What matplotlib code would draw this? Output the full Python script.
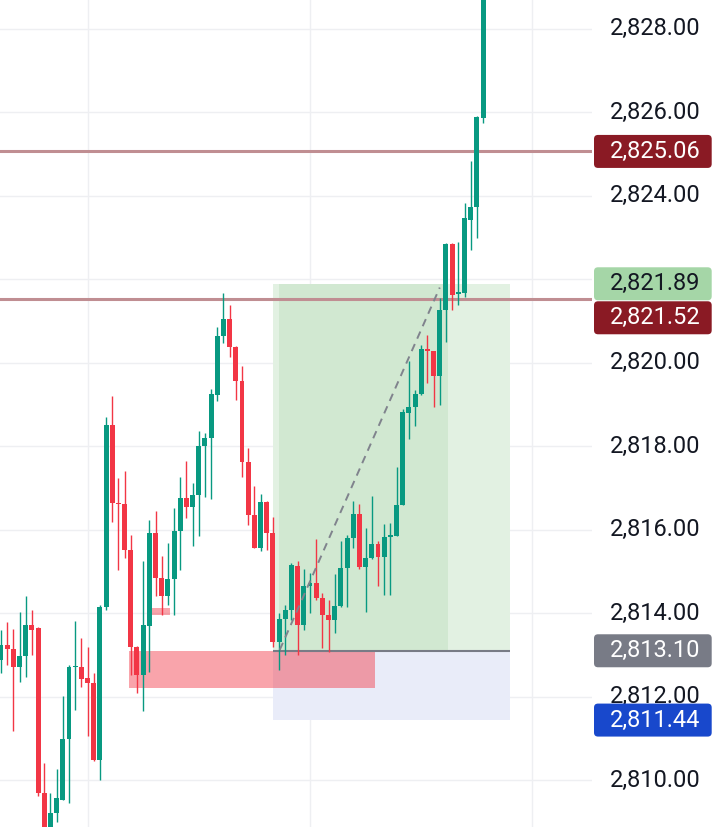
import matplotlib
matplotlib.use("Agg")
import matplotlib.pyplot as plt
from matplotlib.patches import Rectangle, FancyBboxPatch

# ---- OHLC series (one bar per entry) ----
opens = [2812.88, 2813.24, 2813.14, 2812.71, 2812.98, 2813.72, 2813.65, 2809.70, 2808.75, 2809.22,
         2809.53, 2810.99, 2812.71, 2812.71, 2812.45, 2812.34, 2810.49, 2814.14, 2818.51, 2816.64,
         2816.61, 2815.52, 2813.19, 2812.52, 2813.70, 2815.92, 2814.84, 2814.40, 2814.82, 2815.96,
         2816.76, 2816.54, 2816.83, 2818.00, 2818.20, 2819.23, 2820.63, 2821.04, 2820.37, 2819.55,
         2817.63, 2816.35, 2815.56, 2816.67, 2815.92, 2813.32, 2813.87, 2814.08, 2815.13, 2813.72,
         2814.65, 2814.73, 2814.37, 2813.96, 2813.84, 2814.17, 2815.09, 2815.81, 2816.37, 2815.11,
         2815.33, 2815.66, 2815.35, 2815.83, 2815.85, 2816.59, 2818.80, 2818.95, 2819.25, 2820.32,
         2820.27, 2819.67, 2821.26, 2822.84, 2821.64, 2821.66, 2823.42, 2823.73, 2825.87]
highs = [2813.60, 2813.80, 2813.62, 2814.04, 2814.41, 2814.08, 2813.68, 2810.40, 2809.70, 2810.27,
         2812.01, 2812.76, 2813.81, 2813.41, 2813.19, 2812.57, 2814.20, 2818.71, 2819.20, 2817.24,
         2817.41, 2815.88, 2813.21, 2815.24, 2816.23, 2816.44, 2815.37, 2815.69, 2816.52, 2817.27,
         2817.64, 2817.12, 2818.37, 2818.32, 2819.37, 2820.86, 2821.67, 2821.38, 2820.39, 2819.92,
         2817.96, 2817.04, 2816.85, 2816.69, 2816.31, 2814.01, 2814.20, 2815.21, 2815.24, 2815.06,
         2814.97, 2815.78, 2814.49, 2814.32, 2814.94, 2815.74, 2815.88, 2816.69, 2816.61, 2816.05,
         2816.80, 2815.72, 2816.13, 2816.16, 2817.51, 2818.89, 2820.03, 2819.35, 2820.42, 2820.66,
         2820.29, 2821.55, 2822.87, 2822.86, 2822.90, 2823.83, 2824.82, 2825.90, 2829.00]
lows = [2812.57, 2812.76, 2811.17, 2812.36, 2812.48, 2813.00, 2809.61, 2808.55, 2808.55, 2809.01,
        2809.52, 2809.46, 2811.69, 2812.24, 2811.05, 2810.46, 2810.01, 2814.08, 2816.19, 2815.04,
        2815.33, 2812.52, 2812.09, 2811.65, 2812.60, 2814.40, 2813.96, 2814.20, 2813.96, 2815.04,
        2816.28, 2815.60, 2815.84, 2816.78, 2816.73, 2819.09, 2820.47, 2820.14, 2819.11, 2817.27,
        2816.11, 2815.55, 2815.48, 2815.52, 2813.20, 2812.64, 2813.00, 2813.84, 2813.00, 2813.60,
        2814.01, 2814.32, 2813.17, 2813.08, 2813.53, 2814.15, 2814.15, 2815.57, 2815.07, 2814.04,
        2815.31, 2814.64, 2814.44, 2814.44, 2815.84, 2816.58, 2818.17, 2818.48, 2819.23, 2819.52,
        2818.95, 2818.99, 2820.50, 2821.26, 2821.38, 2821.58, 2822.70, 2822.99, 2825.75]
closes = [2813.24, 2813.14, 2812.71, 2812.98, 2813.72, 2813.60, 2809.70, 2808.75, 2809.22, 2809.58,
          2810.99, 2812.72, 2812.74, 2812.42, 2812.34, 2810.49, 2814.14, 2818.51, 2816.64, 2816.61,
          2815.52, 2813.19, 2812.52, 2813.72, 2815.93, 2814.84, 2814.40, 2814.82, 2815.96, 2816.76,
          2816.54, 2816.83, 2818.00, 2818.20, 2819.25, 2820.63, 2821.04, 2820.37, 2819.55, 2817.63,
          2816.35, 2815.57, 2816.67, 2815.92, 2813.32, 2813.86, 2814.08, 2815.16, 2813.72, 2814.65,
          2814.73, 2814.37, 2813.96, 2813.84, 2814.17, 2815.09, 2815.81, 2816.37, 2815.11, 2815.33,
          2815.66, 2815.35, 2815.83, 2815.88, 2816.59, 2818.83, 2818.95, 2819.25, 2820.32, 2820.27,
          2819.67, 2821.26, 2822.84, 2821.62, 2821.70, 2823.47, 2823.73, 2825.89, 2828.90]

# ---- horizontal levels and long-position tool ----
levels = [2825.06, 2821.52]
entry_price = 2813.10
target_price = 2821.89
stop_price = 2811.44
position_bars = (44, 82.3)          # tool span in bar units
filled_bars = (45, 72.4)            # part already travelled by price
path_bars = (45.1, 71.0)
path_prices = (2813.12, 2821.80)

# ---- demand zones ----
zones = [(20.7, 60.5, 2812.20, 2813.09), (24.4, 27.35, 2813.96, 2814.12)]

# ---- price scale ----
price_ticks = [2828, 2826, 2824, 2822, 2820, 2818, 2816, 2814, 2812, 2810]
time_grid_bars = [14, 50, 86]
tag_prices = [2825.06, 2821.89, 2821.52, 2813.10, 2811.44]
tag_faces = ['#8a1a24', '#a5d6a7', '#8a1a24', '#787b86', '#1848cc']
tag_texts = ['white', '#131722', 'white', 'white', 'white']

UP, DOWN = '#089981', '#f23645'
W, H, DPI = 720, 827, 100
PLOT_W = 592                      # width of the candle pane in px
BAR_PX = 6.18
Y_TOP, Y_BOT = 2828.687, 2808.879
PX_PRICE = (Y_TOP - Y_BOT) / H     # price units per pixel

plt.rcParams['font.family'] = ['Roboto', 'DejaVu Sans']

fig = plt.figure(figsize=(W / DPI, H / DPI), dpi=DPI)
fig.patch.set_facecolor('white')
ax = fig.add_axes([0, 0, PLOT_W / W, 1])
x0 = -1 / BAR_PX
ax.set_xlim(x0, x0 + PLOT_W / BAR_PX)
ax.set_ylim(Y_BOT, Y_TOP)
ax.axis('off')

# grid
for p in price_ticks:
    ax.axhline(p, color='#eeeff2', lw=1.0, zorder=0)
for b in time_grid_bars:
    ax.axvline(b, color='#eeeff2', lw=1.0, zorder=0)

# long position boxes
L, R = position_bars
ax.add_patch(Rectangle((L, entry_price), R - L, target_price - entry_price,
                       facecolor='#e2f1e2', edgecolor='none', zorder=1))
ax.add_patch(Rectangle((filled_bars[0], entry_price), filled_bars[1] - filled_bars[0],
                       target_price - entry_price, facecolor='#d1e8d1', edgecolor='none', zorder=1.1))
ax.add_patch(Rectangle((L, stop_price), R - L, entry_price - stop_price,
                       facecolor='#e9ecf9', edgecolor='none', zorder=1))
ax.plot([L, R], [entry_price, entry_price], color='#787b86', lw=1.5, zorder=1.5,
        solid_capstyle='butt')

# zones
for a, b, lo, hi in zones:
    ax.add_patch(Rectangle((a, lo), b - a, hi - lo, facecolor=DOWN, alpha=0.45,
                           edgecolor='none', zorder=1.3))

# horizontal levels
for lv in levels:
    ax.axhline(lv, color='#c08e92', lw=2.2, zorder=1.6)

# candles
xs = list(range(len(opens)))
min_body = 1.2 * PX_PRICE
for i, o, h, l, c in zip(xs, opens, highs, lows, closes):
    col = UP if c >= o else DOWN
    ax.vlines(i, l, h, color=col, lw=1.0, zorder=2)
    lo = min(o, c)
    ht = max(abs(c - o), min_body)
    ax.bar(i, ht, bottom=lo, width=0.8, color=col, edgecolor='none', zorder=2.1)

# path from entry to target
ax.plot(path_bars, path_prices, color='#80838d', lw=1.4, linestyle=(0, (4, 3)), zorder=2.5)

# ---- price scale labels ----
lab = fig.add_axes([0, 0, 1, 1], facecolor='none')
lab.set_xlim(0, W)
lab.set_ylim(Y_BOT, Y_TOP)
lab.axis('off')

box_h = 33 * PX_PRICE
gap = 1 * PX_PRICE

# a tick label that sits right under a price tag is hidden by the scale
for p in price_ticks:
    if any(abs(p - t) < 0.6 * box_h for t in tag_prices):
        continue
    lab.text(655, p, f'{p:,.2f}', ha='center', va='center', fontsize=17,
             color='#131722', zorder=1)

prev_bottom = None
for p, fc, tc in sorted(zip(tag_prices, tag_faces, tag_texts), key=lambda t: -t[0]):
    center = p
    if prev_bottom is not None and center + box_h / 2 > prev_bottom - gap:
        center = prev_bottom - gap - box_h / 2
    prev_bottom = center - box_h / 2
    lab.add_patch(FancyBboxPatch((594, center - box_h / 2), 117.7, box_h,
                                 boxstyle='round,pad=0,rounding_size=4',
                                 mutation_aspect=PX_PRICE, facecolor=fc,
                                 edgecolor='none', zorder=3))
    lab.text(655, center, f'{p:,.2f}', ha='center', va='center', fontsize=17,
             color=tc, zorder=4)

fig.savefig('out.png', dpi=DPI, facecolor='white')
